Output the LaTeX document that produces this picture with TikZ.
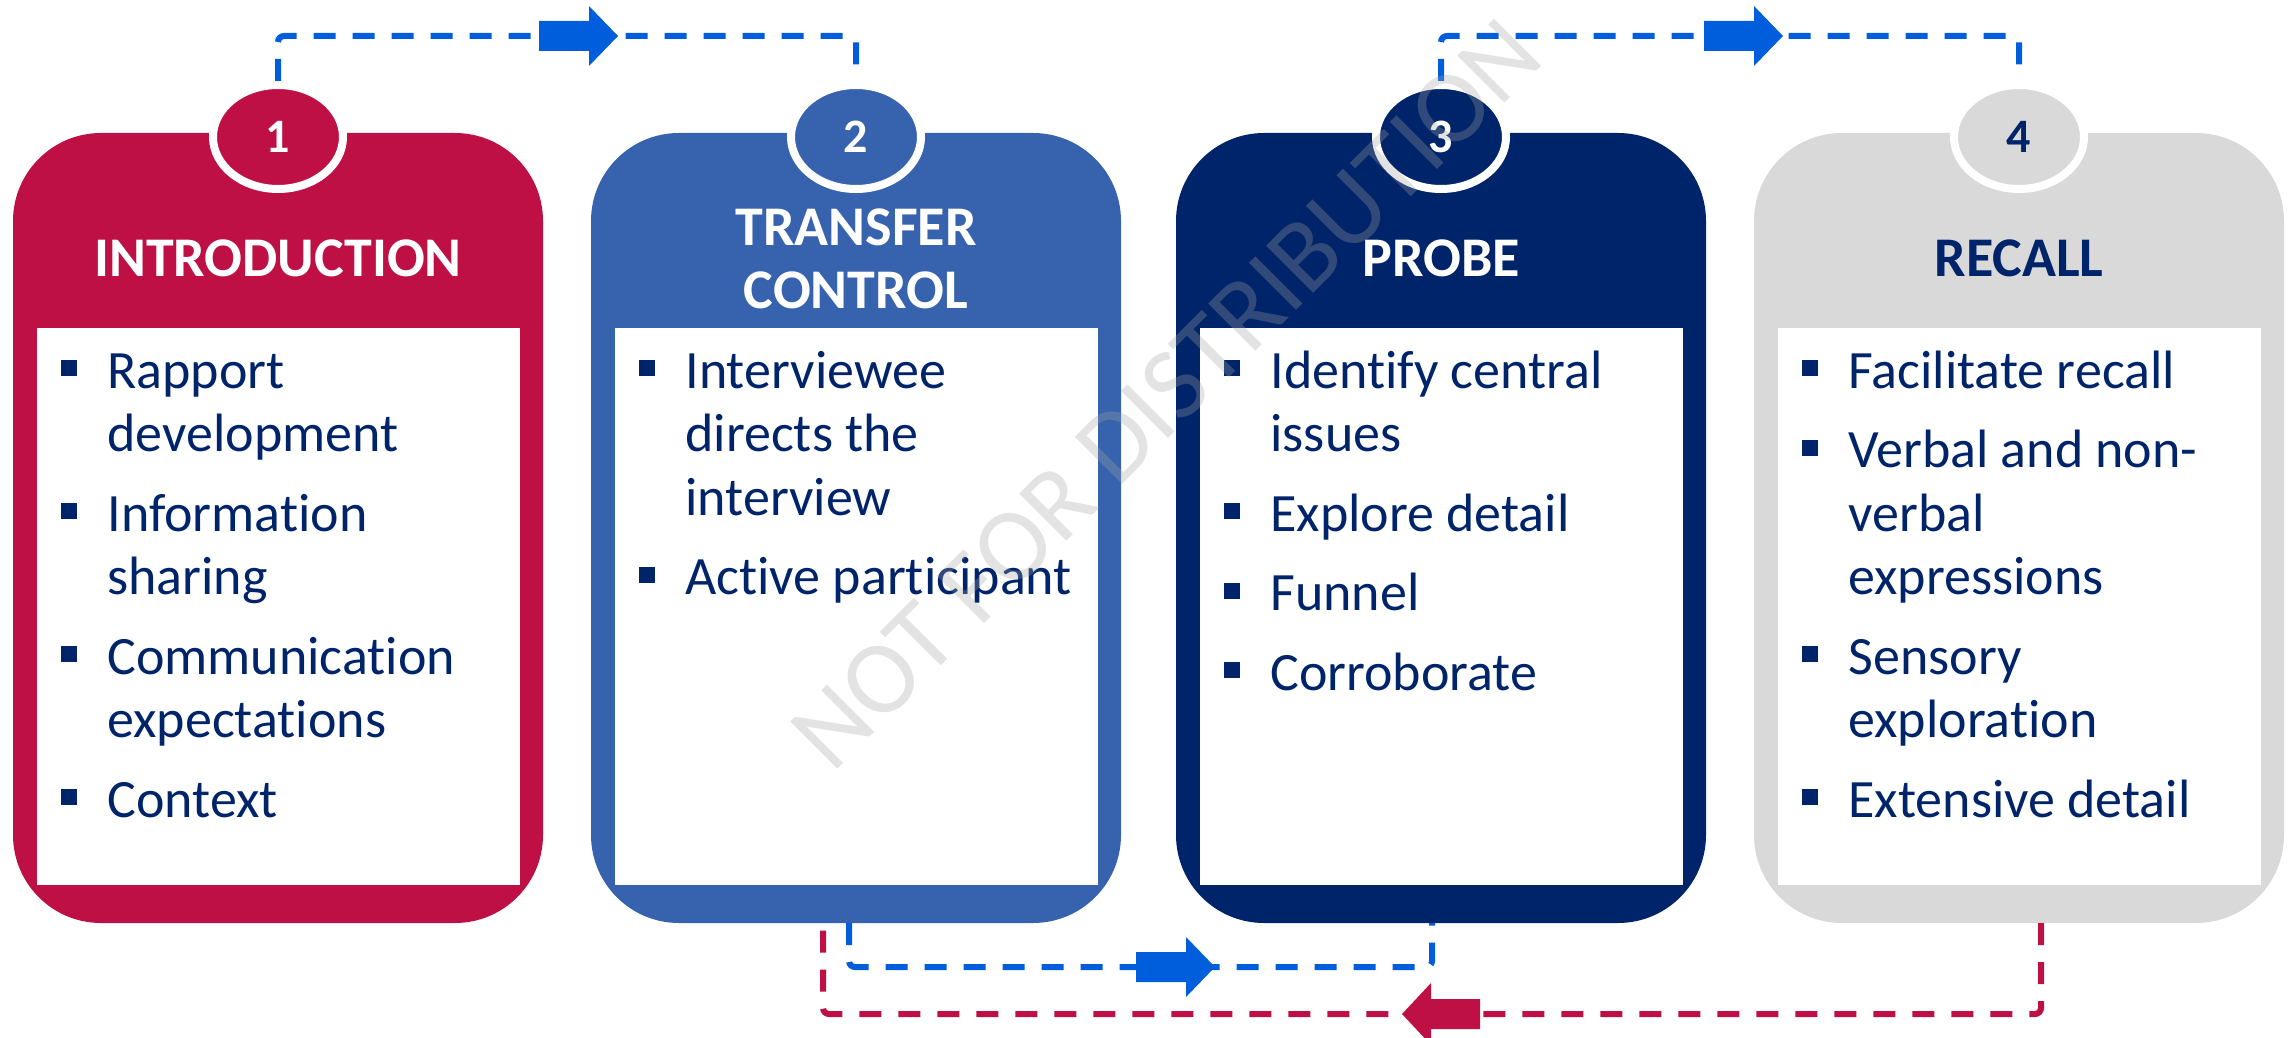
\documentclass[tikz,border=0pt]{standalone}
\usepackage{fontspec}
\newfontfamily\carl[Ligatures=NoCommon]{Carlito}
\usetikzlibrary{calc,shapes.geometric}
\definecolor{boxred}{HTML}{BE1045}
\definecolor{boxblue}{HTML}{3763AE}
\definecolor{navy}{HTML}{002469}
\definecolor{boxgrey}{HTML}{D9D9D9}
\definecolor{arrowblue}{HTML}{005EDC}
\definecolor{wmgray}{HTML}{A3A3A3}
\newcommand\bulletitem[4]{\node[bulsq] (#1b) at (#2+56,#3-20) {}; \node[itxt] (#1) at (#2+94,#3) {#4};}
\newcommand\contline[4]{\node[itxt] (#1) at (#2+94,#3) {#4};}
\newcommand\rblockarrow[3]{\fill[#3] (#1,#2) ++(0,-15) -- ++(50,0) -- ++(0,-15) -- ++(29,30) -- ++(-29,30) -- ++(0,-15) -- ++(-50,0) -- cycle;}
\newcommand\lblockarrow[3]{\fill[#3] (#1,#2) ++(0,-15) -- ++(-49,0) -- ++(0,-16) -- ++(-29,31) -- ++(29,31) -- ++(0,-16) -- ++(49,0) -- cycle;}
\begin{document}
\begin{tikzpicture}[x=0.5pt,y=-0.5pt,
  card/.style={rectangle, rounded corners=44pt, minimum width=265pt, minimum height=395pt, inner sep=0pt, outer sep=0pt, draw=none},
  panel/.style={rectangle, fill=white, minimum width=241.5pt, minimum height=278.5pt, inner sep=0pt, draw=none},
  badge/.style={ellipse, minimum width=65pt, minimum height=52pt, inner sep=0pt, draw=white, line width=4pt, font=\carl\bfseries\fontsize{24pt}{24pt}\selectfont},
  ttl/.style={anchor=base, inner sep=0pt, font=\carl\bfseries\fontsize{28pt}{28pt}\selectfont},
  itxt/.style={anchor=base west, inner sep=0pt, text=navy, font=\carl\fontsize{27pt}{32pt}\selectfont},
  bulsq/.style={rectangle, fill=navy, minimum size=8pt, inner sep=0pt},
  flowblue/.style={draw=arrowblue, line width=3pt, dash pattern=on 11pt off 8.5pt, rounded corners=3pt},
  flowred/.style={draw=boxred, line width=3pt, dash pattern=on 11pt off 8.5pt, rounded corners=3pt}
]
\useasboundingbox (0,0) rectangle (2288,1038);

% cards
\node[card, fill=boxred] (b1) at (278,528) {};
\node[card, fill=boxblue] (b2) at (856,528) {};
\node[card, fill=navy] (b3) at (1441,528) {};
\node[card, fill=boxgrey] (b4) at (2019,528) {};

% bottom connectors
\draw[flowblue] ($(b2.south)+(-7,0)$) -- ++(0,44) -| ($(b3.south)+(-9,0)$);
\draw[flowred] ($(b4.south)+(22,0)$) -- ++(0,91) -| ($(b2.south)+(-33,0)$);
\rblockarrow{1136}{967}{arrowblue}
\lblockarrow{1480}{1014}{boxred}

% white panels
\node[panel] (w1) at (278,606.5) {};
\node[panel] (w2) at (856,606.5) {};
\node[panel] (w3) at (1441,606.5) {};
\node[panel] (w4) at (2019,606.5) {};

% number badges
\node[badge, fill=boxred, text=white] (n1) at (278,137) {1};
\node[badge, fill=boxblue, text=white] (n2) at (856,137) {2};
\node[badge, fill=navy, text=white] (n3) at (1441,137) {3};
\node[badge, fill=boxgrey, text=navy] (n4) at (2019,137) {4};

% top connectors
\draw[flowblue] (n1.north) -- ++(0,-45) -| (n2.north);
\draw[flowblue] (n3.north) -- ++(0,-45) -| (n4.north);
\rblockarrow{539}{36}{arrowblue}
\rblockarrow{1704}{36}{arrowblue}

% titles
\node[ttl, text=white] (h1) at (278,277) {INTRODUCTION};
\node[ttl, text=white] (h2a) at (856,245) {TRANSFER};
\node[ttl, text=white] (h2b) at (856,308) {CONTROL};
\node[ttl, text=white] (h3) at (1441,277) {PROBE};
\node[ttl, text=navy] (h4) at (2019,277) {RECALL};

% box 1 items
\bulletitem{p1a}{13}{388}{Rapport}
\contline{p1a2}{13}{451.5}{development}
\bulletitem{p1b}{13}{531}{Information}
\contline{p1b2}{13}{594.5}{sharing}
\bulletitem{p1c}{13}{674}{Communication}
\contline{p1c2}{13}{737.5}{expectations}
\bulletitem{p1d}{13}{817}{Context}

% box 2 items
\bulletitem{p2a}{591}{388}{Interviewee}
\contline{p2a2}{591}{451.5}{directs the}
\contline{p2a3}{591}{515}{interview}
\bulletitem{p2b}{591}{594.5}{Active participant}

% box 3 items
\bulletitem{p3a}{1176}{388}{Identify central}
\contline{p3a2}{1176}{451.5}{issues}
\bulletitem{p3b}{1176}{531}{Explore detail}
\bulletitem{p3c}{1176}{610.5}{Funnel}
\bulletitem{p3d}{1176}{690}{Corroborate}

% box 4 items
\bulletitem{p4a}{1754}{388}{Facilitate recall}
\bulletitem{p4b}{1754}{467.5}{Verbal and non-}
\contline{p4b2}{1754}{531}{verbal}
\contline{p4b3}{1754}{594.5}{expressions}
\bulletitem{p4c}{1754}{674}{Sensory}
\contline{p4c2}{1754}{737.5}{exploration}
\bulletitem{p4d}{1754}{817}{Extensive detail}

% watermark
\node[rotate=45, inner sep=0pt, text=wmgray, text opacity=0.3, font=\carl\fontsize{52pt}{52pt}\selectfont] (wm) at (1166,394) {NOT FOR DISTRIBUTION};
\end{tikzpicture}
\end{document}
